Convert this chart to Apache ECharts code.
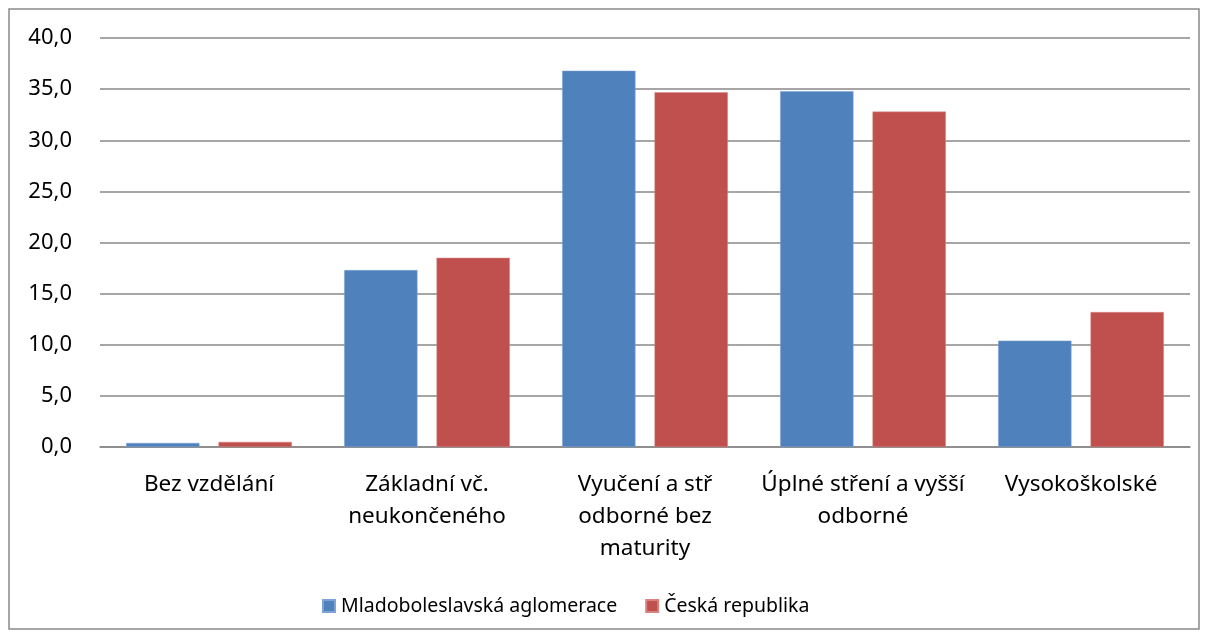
<!DOCTYPE html>
<html><head><meta charset="utf-8">
<script src="https://cdn.jsdelivr.net/npm/echarts@6/dist/echarts.min.js"></script>
<style>html,body{margin:0;padding:0;background:#fff}#c{width:1208px;height:637px}</style>
</head><body><div id="c"></div>
<script>
const categories = ['Bez vzdělání', 'Základní vč.\nneukončeného', 'Vyučení a stř\nodborné bez\nmaturity', 'Úplné stření a vyšší\nodborné', 'Vysokoškolské'];
const seriesNames = ['Mladoboleslavská aglomerace', 'Česká republika'];
const mladoboleslavska = [0.4, 17.3, 36.8, 34.8, 10.4];
const ceskaRepublika = [0.5, 18.5, 34.7, 32.8, 13.2];
const yTicks = {min: 0, max: 40, interval: 5};

const font = '"Noto Sans", "Open Sans", sans-serif';
const chart = echarts.init(document.getElementById('c'));
chart.setOption({
  animation: false,
  textStyle: {fontFamily: font},
  graphic: [{type: 'rect', shape: {x: 9, y: 9, width: 1190, height: 620}, style: {fill: 'none', stroke: '#898989', lineWidth: 1.5}, silent: true}],
  grid: {left: 100, right: 18, top: 38, bottom: 190, containLabel: false},
  legend: {
    top: 596, left: 322, padding: 0, itemWidth: 12, itemHeight: 12, itemGap: 28,
    icon: 'rect', textStyle: {fontSize: 19.5, color: '#000', fontFamily: font, padding: [0, 0, 0, 1]},
    data: seriesNames
  },
  xAxis: {
    type: 'category', data: categories,
    axisLine: {lineStyle: {color: '#888', width: 1.5}},
    axisTick: {show: false},
    axisLabel: {fontSize: 22.5, color: '#000', lineHeight: 32, margin: 22, interval: 0, fontFamily: font}
  },
  yAxis: {
    type: 'value', min: yTicks.min, max: yTicks.max, interval: yTicks.interval,
    axisLine: {show: false}, axisTick: {show: false},
    splitLine: {lineStyle: {color: '#888', width: 1.5}},
    axisLabel: {fontSize: 22, color: '#000', margin: 28, fontFamily: font,
      formatter: v => v.toFixed(1).replace('.', ',')}
  },
  series: [
    {name: seriesNames[0], type: 'bar', data: mladoboleslavska, barGap: '26%', barCategoryGap: '24%',
     itemStyle: {color: '#4f81bd', borderColor: '#7ea4d6', borderWidth: 0.5}},
    {name: seriesNames[1], type: 'bar', data: ceskaRepublika,
     itemStyle: {color: '#c0504d', borderColor: '#d88381', borderWidth: 0.5}}
  ]
});
</script></body></html>
